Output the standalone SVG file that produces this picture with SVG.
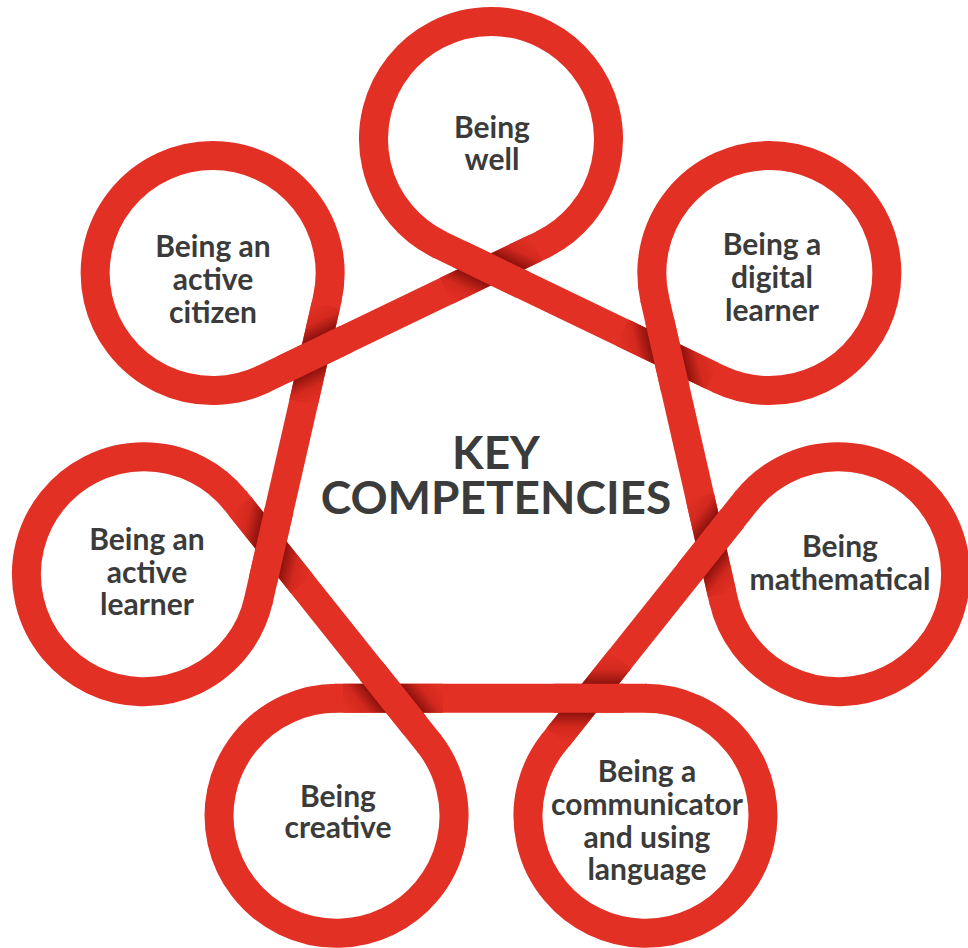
<svg xmlns="http://www.w3.org/2000/svg" width="968" height="948" viewBox="0 0 968 948">
<style>
.band{fill:none;stroke:#E33024;stroke-width:29;stroke-linecap:butt}
.lbl{font-family:Lato,"Liberation Sans",sans-serif;font-weight:700;font-size:30px;fill:#3b3b3b;text-anchor:middle}
.title{font-family:Lato,"Liberation Sans",sans-serif;font-weight:700;font-size:46px;fill:#3b3b3b;text-anchor:middle}
</style>
<defs>
<linearGradient id="g0" gradientUnits="userSpaceOnUse" x1="510.52" y1="228.86" x2="471.48" y2="309.94">
<stop offset="0" stop-color="#E33024"/><stop offset="0.18" stop-color="#D4291E"/><stop offset="0.34" stop-color="#8E120D"/><stop offset="0.66" stop-color="#8E120D"/><stop offset="0.82" stop-color="#D4291E"/><stop offset="1" stop-color="#E33024"/>
</linearGradient>
<linearGradient id="g1" href="#g0" x1="711.25" y1="344.33" x2="623.51" y2="364.35"/>
<linearGradient id="g2" href="#g0" x1="746.12" y1="573.26" x2="675.76" y2="517.14"/>
<linearGradient id="g3" href="#g0" x1="588.88" y1="743.26" x2="588.88" y2="653.26"/>
<linearGradient id="g4" href="#g0" x1="357.94" y1="726.32" x2="428.30" y2="670.20"/>
<linearGradient id="g5" href="#g0" x1="227.19" y1="535.19" x2="314.93" y2="555.21"/>
<linearGradient id="g6" href="#g0" x1="295.10" y1="313.80" x2="334.14" y2="394.88"/>
</defs>
<rect width="968" height="948" fill="#ffffff"/>
<g id="connectors">
<path class="band" d="M438.65 244.19 L719.73 379.55"/>
<path class="band" d="M654.45 297.70 L723.87 601.84"/>
<path class="band" d="M747.17 499.78 L552.66 743.69"/>
<path class="band" d="M646.98 698.26 L335.02 698.26"/>
<path class="band" d="M429.35 743.69 L234.84 499.78"/>
<path class="band" d="M258.13 601.84 L327.55 297.70"/>
<path class="band" d="M262.27 379.55 L543.35 244.19"/>
</g>
<g id="node-being-well">
<path class="band" d="M541.995 244.842 A117.5 117.5 0 1 0 440.005 244.842"/>
<text class="lbl" x="492" y="138">Being</text>
<text class="lbl" x="492" y="170">well</text>
</g>
<g id="node-digital-learner">
<path class="band" d="M718.375 378.898 A117.5 117.5 0 1 0 654.785 299.159"/>
<text class="lbl" x="772" y="255">Being a</text>
<text class="lbl" x="772" y="288">digital</text>
<text class="lbl" x="772" y="321">learner</text>
</g>
<g id="node-mathematical">
<path class="band" d="M723.535 600.381 A117.5 117.5 0 1 0 746.23 500.948"/>
<text class="lbl" x="840" y="557">Being</text>
<text class="lbl" x="840" y="590">mathematical</text>
</g>
<g id="node-communicator">
<path class="band" d="M553.59 742.512 A117.5 117.5 0 1 0 645.48 698.26"/>
<text class="lbl" x="647" y="782">Being a</text>
<text class="lbl" x="647" y="815">communicator</text>
<text class="lbl" x="647" y="848">and using</text>
<text class="lbl" x="647" y="880">language</text>
</g>
<g id="node-creative">
<path class="band" d="M336.52 698.26 A117.5 117.5 0 1 0 428.41 742.512"/>
<text class="lbl" x="338" y="807">Being</text>
<text class="lbl" x="338" y="838">creative</text>
</g>
<g id="node-active-learner">
<path class="band" d="M235.77 500.948 A117.5 117.5 0 1 0 258.465 600.381"/>
<text class="lbl" x="147" y="550">Being an</text>
<text class="lbl" x="147" y="583">active</text>
<text class="lbl" x="147" y="615">learner</text>
</g>
<g id="node-active-citizen">
<path class="band" d="M327.215 299.159 A117.5 117.5 0 1 0 263.625 378.898"/>
<text class="lbl" x="213" y="257">Being an</text>
<text class="lbl" x="213" y="290">active</text>
<text class="lbl" x="213" y="323">citizen</text>
</g>
<g id="crossings">
<path class="band" style="stroke:url(#g0)" d="M445.95 291.09 L536.05 247.71"/>
<path class="band" d="M459.47 254.21 L522.53 284.59"/>
<path class="band" style="stroke:url(#g1)" d="M622.33 332.65 L712.43 376.03"/>
<path class="band" d="M659.59 320.22 L675.17 388.46"/>
<path class="band" style="stroke:url(#g2)" d="M699.81 496.45 L722.07 593.95"/>
<path class="band" d="M732.76 517.84 L689.12 572.56"/>
<path class="band" style="stroke:url(#g3)" d="M620.05 659.17 L557.71 737.35"/>
<path class="band" d="M623.88 698.26 L553.88 698.26"/>
<path class="band" style="stroke:url(#g4)" d="M443.12 698.26 L343.12 698.26"/>
<path class="band" d="M414.94 725.62 L371.30 670.90"/>
<path class="band" style="stroke:url(#g5)" d="M302.23 584.29 L239.89 506.11"/>
<path class="band" d="M263.27 579.32 L278.85 511.08"/>
<path class="band" style="stroke:url(#g6)" d="M303.49 403.09 L325.75 305.59"/>
<path class="band" d="M283.09 369.53 L346.15 339.15"/>
</g>
<g id="title">
<text class="title" x="496" y="469">KEY</text>
<text class="title" x="496" y="514">COMPETENCIES</text>
</g>
</svg>
